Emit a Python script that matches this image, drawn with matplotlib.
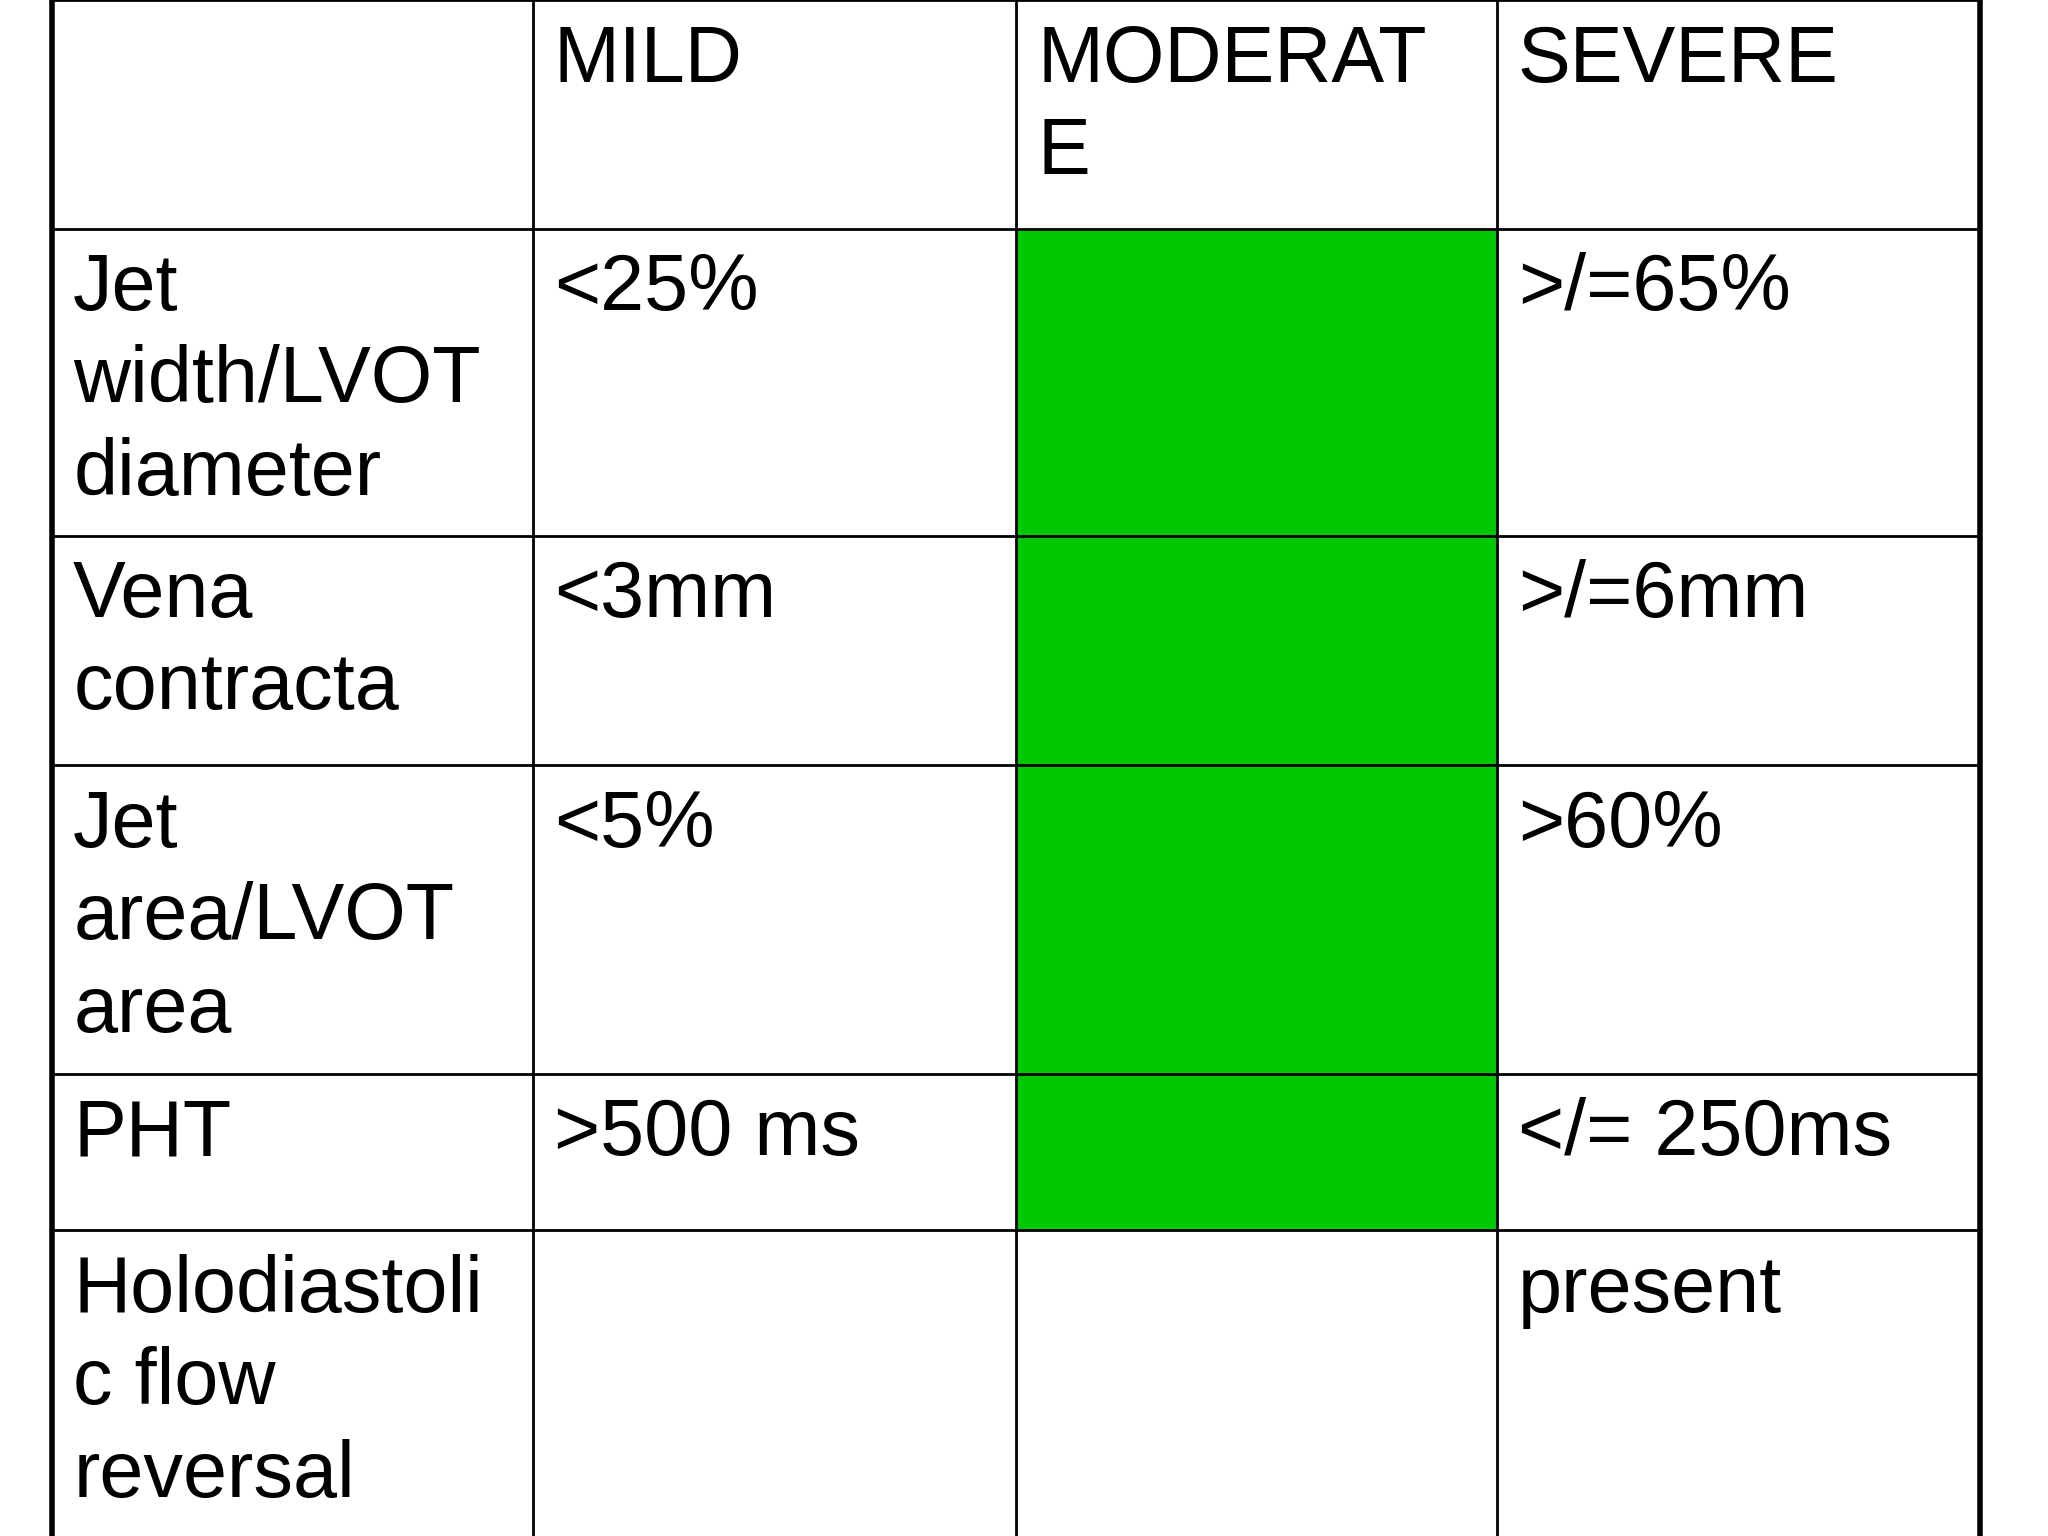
import matplotlib
matplotlib.use("Agg")
import matplotlib.pyplot as plt
from matplotlib.patches import Rectangle

header = ["", "MILD", "MODERAT\nE", "SEVERE"]
row_labels = ["Jet\nwidth/LVOT\ndiameter", "Vena\ncontracta", "Jet\narea/LVOT\narea", "PHT", "Holodiastoli\nc flow\nreversal"]
mild = ["<25%", "<3mm", "<5%", ">500 ms", ""]
moderate = ["", "", "", "", ""]
severe = [">/=65%", ">/=6mm", ">60%", "</= 250ms", "present"]
moderate_green = [True, True, True, True, False]

col_x = [40, 408, 778, 1146, 1516]
row_y = [0, 175, 410, 586, 822, 942, 1200]

fig = plt.figure(figsize=(20.48, 15.36), dpi=100)
ax = fig.add_axes([0, 0, 1, 1])
ax.set_xlim(0, 1568)
ax.set_ylim(1176, 0)
ax.axis("off")

for i, g in enumerate(moderate_green):
    if g:
        ax.add_patch(Rectangle((col_x[2], row_y[i+1]), col_x[3]-col_x[2], row_y[i+2]-row_y[i+1],
                               facecolor="#00C800", edgecolor="none"))

for y in row_y[:-1]:
    ax.plot([col_x[0], col_x[-1]], [y, y], color="black", lw=2)
for j, x in enumerate(col_x):
    ax.plot([x, x], [0, 1176], color="black", lw=4 if j in (0, len(col_x)-1) else 2)

fs = 57
def put(c, r, s):
    ax.text(col_x[c] + 16, row_y[r] + 18, s, fontsize=fs, family="Liberation Sans",
            va="top", ha="left", linespacing=1.3)

for c, s in enumerate(header):
    put(c, 0, s)
for i in range(len(row_labels)):
    put(0, i+1, row_labels[i])
    put(1, i+1, mild[i])
    put(2, i+1, moderate[i])
    put(3, i+1, severe[i])

fig.savefig("out.png", dpi=100)
